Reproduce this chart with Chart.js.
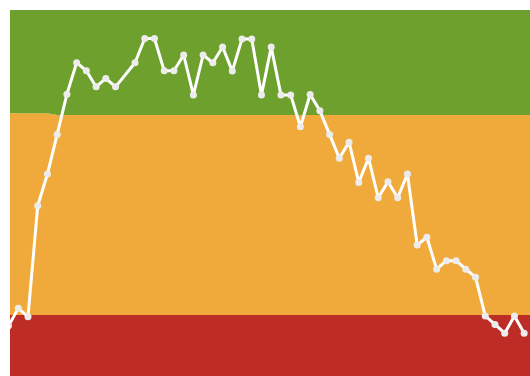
<!DOCTYPE html>
<html>
<head>
<meta charset="utf-8">
<script src="https://cdn.jsdelivr.net/npm/chart.js@4"></script>
<style>
  html, body { margin: 0; padding: 0; background: #fff; overflow: hidden; }
  canvas { display: block; }
</style>
</head>
<body>
<canvas id="scoreChart" width="530" height="376"></canvas>
<script>
// line values, one per period (null = no reading)
const scores = [13.7, 18.5, 16.2, 46.5, 55.2, 66.0, 77.0, 85.6, 83.4, 79.0,
                81.3, 79.0, null, 85.6, 92.2, 92.2, 83.4, 83.4, 87.7, 76.8,
                87.7, 85.6, 89.9, 83.3, 92.1, 92.1, 76.8, 89.9, 76.8, 76.8,
                68.1, 76.9, 72.5, 66.0, 59.5, 63.9, 52.9, 59.5, 48.7, 53.1,
                48.7, 55.2, 35.8, 37.9, 29.2, 31.5, 31.5, 29.2, 27.0, 16.4,
                14.1, 11.7, 16.4, 11.7];

// band limits
const redTop = 16.7;
const orangeTopStart = 71.8;   // first five periods
const orangeTop = 71.3;
const greenTop = 100;

const periods = scores.map((v, i) => i);
const bandPeriods = [...periods, scores.length];

const toPoints = (xs, f) => xs.map(i => ({ x: i, y: f(i) }));

const ctx = document.getElementById('scoreChart').getContext('2d');
new Chart(ctx, {
    type: 'line',
    data: {
        datasets: [
            {
                data: toPoints(bandPeriods, () => redTop),
                backgroundColor: '#bd2c25',
                borderWidth: 0,
                pointRadius: 0,
                fill: 'origin',
                clip: 0,
                order: 3
            },
            {
                data: toPoints(bandPeriods, i => (i < 5 ? orangeTopStart : orangeTop)),
                backgroundColor: '#f0aa3c',
                borderWidth: 0,
                pointRadius: 0,
                fill: '-1',
                clip: 0,
                order: 2
            },
            {
                data: toPoints(bandPeriods, () => greenTop),
                backgroundColor: '#6ea02e',
                borderWidth: 0,
                pointRadius: 0,
                fill: '-1',
                clip: 0,
                order: 1
            },
            {
                data: toPoints(periods, i => scores[i]),
                borderColor: '#ffffff',
                borderWidth: 3,
                borderJoinStyle: 'round',
                pointRadius: 3.5,
                pointBorderWidth: 0,
                pointBackgroundColor: '#ececec',
                spanGaps: true,
                fill: false,
                tension: 0,
                clip: 0,
                order: 0
            }
        ]
    },
    options: {
        responsive: false,
        animation: false,
        devicePixelRatio: 1,
        layout: { autoPadding: false, padding: { left: 10, top: 10, right: 0, bottom: 0 } },
        plugins: {
            legend: { display: false },
            tooltip: { enabled: false }
        },
        scales: {
            x: { type: 'linear', min: 0.15, max: 53.6, display: false },
            y: { min: 0, max: 100, display: false }
        }
    }
});
</script>
</body>
</html>
